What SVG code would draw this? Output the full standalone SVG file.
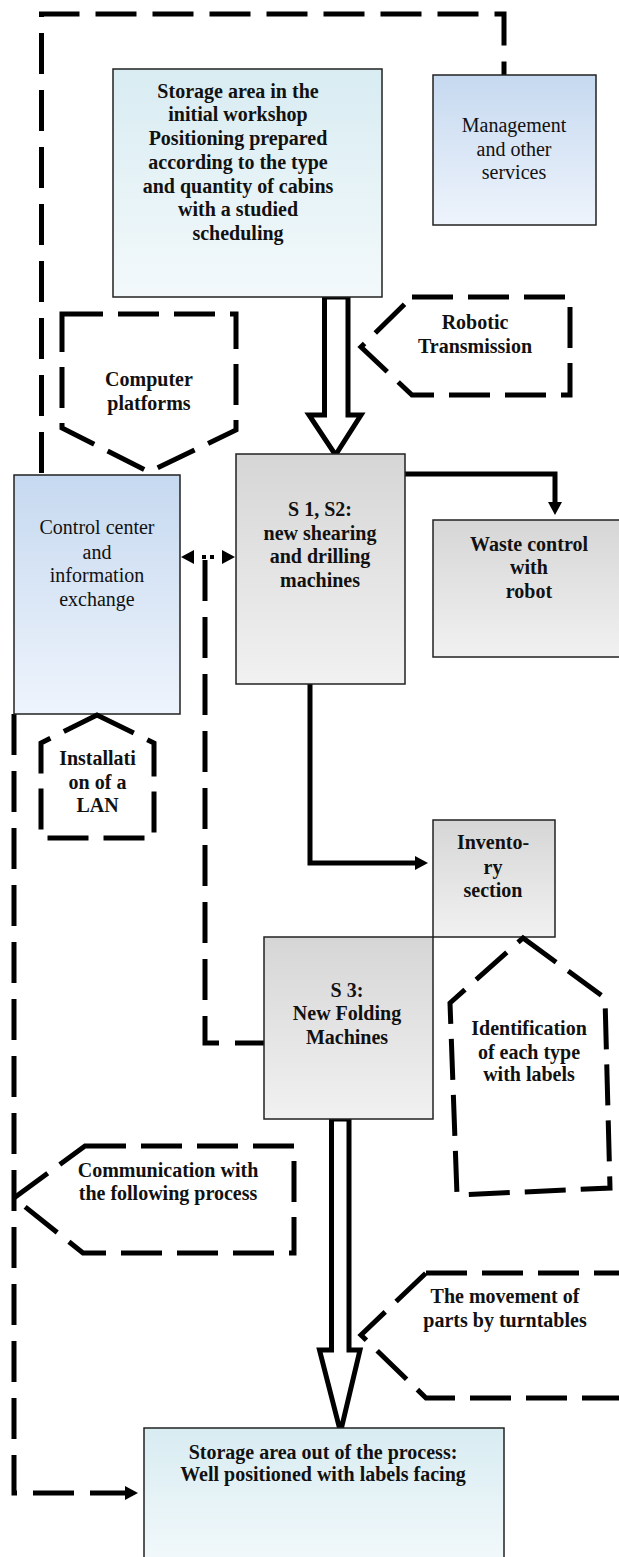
<svg xmlns="http://www.w3.org/2000/svg" width="619" height="1557" viewBox="0 0 619 1557">
<defs>
<linearGradient id="gBlue" x1="0" y1="0" x2="0" y2="1"><stop offset="0" stop-color="#c6d9f0"/><stop offset="1" stop-color="#eef4fc"/></linearGradient>
<linearGradient id="gCyan" x1="0" y1="0" x2="0" y2="1"><stop offset="0" stop-color="#d8ecf2"/><stop offset="1" stop-color="#f3f9fb"/></linearGradient>
<linearGradient id="gGray" x1="0" y1="0" x2="0" y2="1"><stop offset="0" stop-color="#d6d6d6"/><stop offset="1" stop-color="#f1f1f1"/></linearGradient>
<marker id="ah" markerUnits="userSpaceOnUse" markerWidth="14" markerHeight="14" refX="3" refY="7" orient="auto"><path d="M0,0 L13,7 L0,14 z" fill="#000"/></marker>
<marker id="ahs" markerUnits="userSpaceOnUse" markerWidth="14" markerHeight="14" refX="3" refY="7" orient="auto-start-reverse"><path d="M0,0 L13,7 L0,14 z" fill="#000"/></marker>
</defs>
<style>
.box{stroke:#222;stroke-width:1.5}
.co{fill:none;stroke:#000;stroke-width:5;stroke-dasharray:41 15}
.dl{fill:none;stroke:#000;stroke-width:5;stroke-dasharray:41 16}
.sl{fill:none;stroke:#000;stroke-width:5}
.ha{fill:#fff;stroke:#000;stroke-width:5;stroke-linejoin:miter}
text{font-family:"Liberation Serif","Times New Roman",serif;font-size:20px;fill:#111;text-anchor:middle}
.b{font-weight:bold}
</style>
<g id="connectors">
<path class="dl" d="M41.5,473 V14 H504 V75"/>
<path class="dl" d="M14,714 V1493 H128" marker-end="url(#ah)"/>
<path class="dl" d="M205,560 V1043 H264"/>
<path d="M191,557 H225" fill="none" stroke="#000" stroke-width="4" stroke-dasharray="0 11 4 4 4 11" marker-start="url(#ahs)" marker-end="url(#ah)"/>
<path class="sl" d="M405,474 H555 V505" marker-end="url(#ah)"/>
<path class="sl" d="M310,684 V863 H418" marker-end="url(#ah)"/>
<polygon class="ha" points="324.5,297 348,297 348,415 361,415 335.5,455 309,415 324.5,415"/>
<polygon class="ha" points="331.5,1119 349,1119 349,1350 360,1350 340.5,1432 319.5,1350 331.5,1350"/>
</g>
<g id="storage1">
<rect class="box" x="113" y="69" width="269" height="228" fill="url(#gCyan)"/>
<text class="b" x="238" y="98">Storage area in the</text>
<text class="b" x="238" y="121">initial workshop</text>
<text class="b" x="238" y="145">Positioning prepared</text>
<text class="b" x="238" y="169">according to the type</text>
<text class="b" x="238" y="193">and quantity of cabins</text>
<text class="b" x="238" y="216">with a studied</text>
<text class="b" x="238" y="240">scheduling</text>
</g>
<g id="management">
<rect class="box" x="433" y="75" width="163" height="150" fill="url(#gBlue)"/>
<text x="514" y="132">Management</text>
<text x="514" y="156">and other</text>
<text x="514" y="179">services</text>
</g>
<g id="robotic">
<polygon class="co" points="412,297 570,297 570,395 412,395 361,347"/>
<text class="b" x="475" y="329">Robotic</text>
<text class="b" x="475" y="353">Transmission</text>
</g>
<g id="computer">
<polygon class="co" points="62,314 236,314 236,430 149,472 62,428"/>
<text class="b" x="149" y="386">Computer</text>
<text class="b" x="149" y="410">platforms</text>
</g>
<g id="control">
<rect class="box" x="14" y="475" width="166" height="239" fill="url(#gBlue)"/>
<text x="97" y="534">Control center</text>
<text x="97" y="559">and</text>
<text x="97" y="582">information</text>
<text x="97" y="606">exchange</text>
</g>
<g id="s1s2">
<rect class="box" x="236" y="454" width="169" height="230" fill="url(#gGray)"/>
<text class="b" x="320" y="516">S 1, S2:</text>
<text class="b" x="320" y="540">new shearing</text>
<text class="b" x="320" y="563">and drilling</text>
<text class="b" x="320" y="587">machines</text>
</g>
<g id="waste">
<rect class="box" x="433" y="520" width="190" height="137" fill="url(#gGray)"/>
<text class="b" x="529" y="551">Waste control</text>
<text class="b" x="529" y="574">with</text>
<text class="b" x="529" y="598">robot</text>
</g>
<g id="lan">
<polygon class="co" points="97,715 154,743 154,838 41,838 41,743"/>
<text class="b" x="97.5" y="765">Installati</text>
<text class="b" x="97.5" y="789">on of a</text>
<text class="b" x="97.5" y="812">LAN</text>
</g>
<g id="inventory">
<rect class="box" x="433" y="820" width="122" height="117" fill="url(#gGray)"/>
<text class="b" x="493" y="849">Invento-</text>
<text class="b" x="493" y="874">ry</text>
<text class="b" x="493" y="897">section</text>
</g>
<g id="s3">
<rect class="box" x="264" y="937" width="169" height="182" fill="url(#gGray)"/>
<text class="b" x="347" y="997">S 3:</text>
<text class="b" x="347" y="1020">New Folding</text>
<text class="b" x="347" y="1044">Machines</text>
</g>
<g id="identification">
<polygon class="co" points="523,938 605,998 610,1188 457,1195 450,1003"/>
<text class="b" x="529" y="1035">Identification</text>
<text class="b" x="529" y="1059">of each type</text>
<text class="b" x="529" y="1081">with labels</text>
</g>
<g id="communication">
<polygon class="co" points="85,1146 294,1146 294,1253 83,1253 14,1198"/>
<text class="b" x="168" y="1177">Communication with</text>
<text class="b" x="168" y="1200">the following process</text>
</g>
<g id="movement">
<polygon class="co" points="426,1273 630,1273 630,1398 426,1398 361,1335"/>
<text class="b" x="505" y="1303">The movement of</text>
<text class="b" x="505" y="1327">parts by turntables</text>
</g>
<g id="storage2">
<rect class="box" x="144" y="1428" width="360" height="140" fill="url(#gCyan)"/>
<text class="b" x="323" y="1459">Storage area out of the process:</text>
<text class="b" x="323" y="1481">Well positioned with labels facing</text>
</g>
</svg>
